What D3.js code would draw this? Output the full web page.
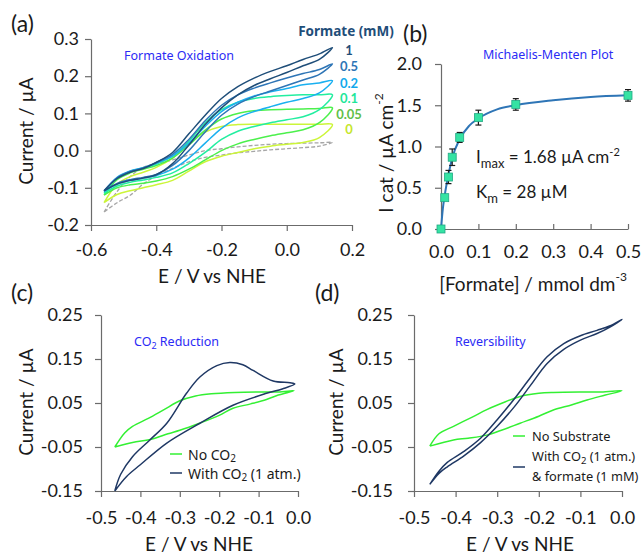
<!DOCTYPE html>
<head>
    <meta charset="utf-8">
    <title>Formate oxidation / CO2 reduction</title>
    <script src="https://cdn.jsdelivr.net/npm/d3@7"></script>
    <style>
        body { margin: 0; background: #fff; }
        svg { font-family: Lato, "Noto Sans", sans-serif; }
        .axis path, .axis line { stroke: #6b6b6b; stroke-width: 1.2; }
        .axis text { font-size: 18px; fill: #1a1a1a; font-family: Lato, sans-serif; }
        .ttl { font-size: 19px; fill: #1a1a1a; }
        .note { font-size: 12.5px; fill: #2b2bf5; font-family: "Noto Sans", sans-serif; }
        .leg { fill: #1a1a1a; font-family: "Noto Sans", sans-serif; }
        .tag { font-size: 23px; fill: #1a1a1a; }
    </style>
</head>
<body>
<svg id="chart" width="642" height="556"></svg>
<script>
    // (a) formate oxidation CVs - all loops share this potential grid (V vs NHE)
    var potA = [-0.56, -0.52, -0.48, -0.44, -0.40, -0.35, -0.30, -0.25, -0.20, -0.15, -0.10, -0.05, 0.00, 0.05, 0.10, 0.14];
    // forward (upper) and reverse (lower) branches, current in uA
    var fwd1 = [-0.108, -0.075, -0.058, -0.048, -0.032, -0.005, 0.045, 0.095, 0.140, 0.172, 0.195, 0.213, 0.228, 0.245, 0.260, 0.277];
    var rev1 = [-0.108, -0.090, -0.080, -0.074, -0.065, -0.035, 0.015, 0.070, 0.115, 0.150, 0.175, 0.193, 0.210, 0.228, 0.245, 0.277];
    var fwd05 = [-0.108, -0.073, -0.056, -0.047, -0.032, -0.010, 0.030, 0.080, 0.122, 0.150, 0.168, 0.182, 0.195, 0.207, 0.218, 0.233];
    var rev05 = [-0.108, -0.088, -0.078, -0.072, -0.064, -0.040, 0.000, 0.050, 0.095, 0.125, 0.145, 0.160, 0.175, 0.190, 0.205, 0.233];
    var fwd02 = [-0.110, -0.072, -0.055, -0.046, -0.034, -0.015, 0.020, 0.065, 0.105, 0.130, 0.147, 0.158, 0.167, 0.177, 0.182, 0.188];
    var rev02 = [-0.110, -0.090, -0.080, -0.074, -0.067, -0.050, -0.020, 0.020, 0.060, 0.088, 0.105, 0.118, 0.130, 0.140, 0.155, 0.188];
    var fwd01 = [-0.115, -0.074, -0.056, -0.047, -0.036, -0.015, 0.025, 0.075, 0.110, 0.130, 0.140, 0.145, 0.148, 0.150, 0.150, 0.150];
    var rev01 = [-0.115, -0.095, -0.085, -0.079, -0.072, -0.060, -0.035, -0.005, 0.030, 0.052, 0.065, 0.075, 0.083, 0.091, 0.110, 0.150];
    var fwd005 = [-0.120, -0.078, -0.060, -0.050, -0.040, -0.020, 0.015, 0.055, 0.085, 0.100, 0.107, 0.110, 0.111, 0.112, 0.113, 0.115];
    var rev005 = [-0.120, -0.100, -0.092, -0.088, -0.082, -0.070, -0.050, -0.025, 0.000, 0.018, 0.030, 0.040, 0.048, 0.056, 0.075, 0.115];
    var fwd0 = [-0.140, -0.090, -0.070, -0.058, -0.045, -0.020, 0.020, 0.050, 0.065, 0.070, 0.071, 0.071, 0.071, 0.071, 0.071, 0.070];
    var rev0 = [-0.140, -0.118, -0.108, -0.100, -0.092, -0.080, -0.055, -0.030, -0.015, -0.005, 0.005, 0.012, 0.017, 0.022, 0.035, 0.070];
    var fwdBlank = [-0.165, -0.110, -0.070, -0.045, -0.035, -0.025, -0.012, 0.000, 0.005, 0.010, 0.014, 0.017, 0.019, 0.020, 0.021, 0.022];
    var revBlank = [-0.165, -0.140, -0.120, -0.090, -0.068, -0.048, -0.030, -0.018, -0.012, -0.006, -0.002, 0.002, 0.005, 0.008, 0.012, 0.022];
    var concLabels = ["1", "0.5", "0.2", "0.1", "0.05", "0"];

    // (b) Michaelis-Menten
    var conc = [0, 0.01, 0.02, 0.03, 0.05, 0.1, 0.2, 0.5];
    var icat = [0, 0.38, 0.63, 0.87, 1.11, 1.35, 1.51, 1.62];
    var icatErr = [0, 0.03, 0.08, 0.10, 0.06, 0.09, 0.07, 0.07];
    var fitConc = [0, 0.005, 0.01, 0.02, 0.03, 0.05, 0.075, 0.1, 0.15, 0.2, 0.3, 0.4, 0.5];
    var fitI = [0, 0.25, 0.41, 0.66, 0.86, 1.09, 1.25, 1.34, 1.45, 1.50, 1.56, 1.60, 1.62];

    // (c) CO2 reduction
    var noCo2E = [-0.465, -0.44, -0.42, -0.38, -0.34, -0.30, -0.26, -0.22, -0.16, -0.10, -0.05, -0.01, -0.05, -0.08, -0.12, -0.165, -0.20, -0.25, -0.30, -0.33, -0.37, -0.42, -0.465];
    var noCo2I = [-0.050, -0.018, -0.003, 0.015, 0.035, 0.055, 0.066, 0.071, 0.074, 0.075, 0.075, 0.078, 0.068, 0.058, 0.048, 0.038, 0.022, 0.004, -0.012, -0.020, -0.032, -0.040, -0.050];
    var co2E = [-0.465, -0.45, -0.42, -0.376, -0.333, -0.283, -0.249, -0.206, -0.173, -0.14, -0.114, -0.063, -0.02, -0.008, -0.04, -0.08, -0.165, -0.249, -0.333, -0.401, -0.435, -0.465];
    var co2I = [-0.150, -0.112, -0.072, -0.034, 0.004, 0.072, 0.109, 0.135, 0.142, 0.137, 0.124, 0.100, 0.096, 0.093, 0.082, 0.072, 0.045, 0.004, -0.041, -0.091, -0.117, -0.150];

    // (d) reversibility
    var noSubE = [-0.462, -0.44, -0.405, -0.36, -0.325, -0.28, -0.245, -0.20, -0.165, -0.10, -0.05, 0.0, -0.04, -0.084, -0.12, -0.165, -0.20, -0.245, -0.29, -0.325, -0.37, -0.405, -0.462];
    var noSubI = [-0.048, -0.020, -0.003, 0.018, 0.035, 0.053, 0.065, 0.072, 0.074, 0.075, 0.075, 0.078, 0.068, 0.057, 0.046, 0.034, 0.020, 0.004, -0.012, -0.023, -0.030, -0.034, -0.048];
    var bothE = [-0.462, -0.44, -0.42, -0.38, -0.34, -0.30, -0.26, -0.22, -0.18, -0.14, -0.10, -0.06, -0.03, 0.0, -0.03, -0.06, -0.10, -0.14, -0.18, -0.22, -0.26, -0.30, -0.34, -0.38, -0.42, -0.44, -0.462];
    var bothI = [-0.135, -0.105, -0.085, -0.060, -0.030, 0.012, 0.058, 0.108, 0.155, 0.185, 0.203, 0.215, 0.225, 0.240, 0.222, 0.208, 0.193, 0.172, 0.140, 0.090, 0.040, -0.003, -0.040, -0.070, -0.095, -0.110, -0.135];

    var navy = "#1f3864", green = "#33f033";
    var svg = d3.select("#chart");
    var loc = d3.formatLocale({decimal: ".", thousands: ",", grouping: [3], currency: ["", ""], minus: "-"});
    var f1 = loc.format(".1f"), f2 = loc.format(".2f");

    function drawAxes(x, y, xTicks, yTicks, xFmt, yFmt, xTick, xPad, yPad) {
        svg.append("g").attr("class", "axis")
            .attr("transform", "translate(0," + y.range()[0] + ")")
            .call(d3.axisBottom(x).tickValues(xTicks).tickFormat(xFmt)
                .tickSizeInner(xTick).tickSizeOuter(0).tickPadding(xPad));
        svg.append("g").attr("class", "axis")
            .attr("transform", "translate(" + x.range()[0] + ",0)")
            .call(d3.axisLeft(y).tickValues(yTicks).tickFormat(yFmt)
                .tickSizeInner(6).tickSizeOuter(0).tickPadding(yPad));
    }

    function title(x, y, rot) {
        return svg.append("text").attr("class", "ttl")
            .attr("text-anchor", "middle").attr("dominant-baseline", "central")
            .attr("transform", "translate(" + x + "," + y + ")" + (rot ? " rotate(-90)" : ""));
    }

    function sup(t, s, size, shift) {
        t.append("tspan").attr("dy", shift).style("font-size", size + "px").text(s);
        return t.append("tspan").attr("dy", -shift);
    }

    function tag(x, y, s) {
        svg.append("text").attr("class", "tag").attr("x", x).attr("y", y).text(s);
    }

    // ---------- (a) ----------
    var xA = d3.scaleLinear().domain([-0.6, 0.2]).range([91, 352]);
    var yA = d3.scaleLinear().domain([-0.2, 0.3]).range([225, 39]);
    drawAxes(xA, yA, [-0.6, -0.4, -0.2, 0, 0.2], [-0.2, -0.1, 0, 0.1, 0.2, 0.3], f1, f1, 6, 12, 6);

    var lineA = d3.line().x(function (d) { return xA(d[0]); }).y(function (d) { return yA(d[1]); })
        .curve(d3.curveCatmullRom);

    function loop(fwd, rev) {
        var pts = potA.map(function (e, i) { return [e, fwd[i]]; });
        for (var i = potA.length - 2; i >= 0; i--) pts.push([potA[i], rev[i]]);
        return pts;
    }

    var loopsA = [
        {fwd: fwd0, rev: rev0, c: "#ccf53a", lab: "#c6e62e"},
        {fwd: fwd005, rev: rev005, c: "#4cf04c", lab: "#5fc04a"},
        {fwd: fwd01, rev: rev01, c: "#22eea0", lab: "#1fe69a"},
        {fwd: fwd02, rev: rev02, c: "#1ab0f0", lab: "#12a8ec"},
        {fwd: fwd05, rev: rev05, c: "#2e75b6", lab: "#2e75b6"},
        {fwd: fwd1, rev: rev1, c: "#1f4e79", lab: "#1f4e79"}
    ];

    svg.append("path").attr("d", lineA(loop(fwdBlank, revBlank)))
        .attr("fill", "none").attr("stroke", "#a6a6a6").attr("stroke-width", 1.3)
        .attr("stroke-dasharray", "4,2");

    loopsA.forEach(function (l) {
        svg.append("path").attr("d", lineA(loop(l.fwd, l.rev)))
            .attr("fill", "none").attr("stroke", l.c).attr("stroke-width", 1.5);
    });

    // labels next to each loop's right tip, top down, pushed apart so they don't collide
    var labY = -Infinity;
    loopsA.slice().reverse().forEach(function (l, i) {
        labY = Math.max(yA(l.fwd[l.fwd.length - 1]) + 2, labY + 15.5);
        svg.append("text").attr("x", 349).attr("y", labY)
            .attr("text-anchor", "middle").attr("dominant-baseline", "central")
            .style("font-family", "Lato, sans-serif")
            .style("font-size", "13px").attr("font-weight", "bold").attr("fill", l.lab)
            .text(concLabels[i]);
    });

    svg.append("text").attr("x", 346).attr("y", 31).attr("text-anchor", "middle")
        .attr("dominant-baseline", "central").style("font-family", "Noto Sans, sans-serif")
        .style("font-size", "13.5px").attr("font-weight", "bold")
        .attr("fill", "#1f4e79").text("Formate (mM)");
    svg.append("text").attr("class", "note").attr("x", 124).attr("y", 55)
        .attr("dominant-baseline", "central").text("Formate Oxidation");
    title(212, 275).text("E / V vs  NHE");
    title(25, 131, true).text("Current / µA");
    tag(11, 32, "(a)");

    // ---------- (b) ----------
    var xB = d3.scaleLinear().domain([0, 0.5]).range([441, 628]);
    var yB = d3.scaleLinear().domain([0, 2]).range([229, 64]);
    drawAxes(xB, yB, [0, 0.1, 0.2, 0.3, 0.4, 0.5], [0, 0.5, 1, 1.5, 2], f1, f1, -5, 16, 13);

    svg.append("path")
        .attr("d", d3.line().curve(d3.curveMonotoneX)
            .x(function (d, i) { return xB(fitConc[i]); })
            .y(function (d) { return yB(d); })(fitI))
        .attr("fill", "none").attr("stroke", "#2e75b6").attr("stroke-width", 2);

    var pts = svg.append("g").selectAll("g").data(conc).join("g");
    pts.filter(function (d, i) { return icatErr[i] > 0; }).each(function (d) {
        var i = conc.indexOf(d), g = d3.select(this), x = xB(d);
        var y0 = yB(icat[i] - icatErr[i]), y1 = yB(icat[i] + icatErr[i]);
        g.append("line").attr("x1", x).attr("x2", x).attr("y1", y0).attr("y2", y1);
        g.append("line").attr("x1", x - 3).attr("x2", x + 3).attr("y1", y0).attr("y2", y0);
        g.append("line").attr("x1", x - 3).attr("x2", x + 3).attr("y1", y1).attr("y2", y1);
        g.selectAll("line").attr("stroke", "#1a1a1a").attr("stroke-width", 1.2);
    });
    pts.append("rect")
        .attr("x", function (d) { return xB(d) - 4; })
        .attr("y", function (d, i) { return yB(icat[i]) - 4; })
        .attr("width", 8).attr("height", 8)
        .attr("fill", "#35e3a3").attr("stroke", "#22a884").attr("stroke-width", 0.8);

    svg.append("text").attr("class", "note").attr("x", 483).attr("y", 54)
        .attr("dominant-baseline", "central").text("Michaelis-Menten Plot");

    var im = svg.append("text").attr("x", 476).attr("y", 163).style("font-size", "17px").attr("fill", "#1a1a1a").text("I");
    var rest = sup(im, "max", 13, 5);
    rest.text(" = 1.68 µA cm");
    sup(im, "-2", 11, -7);

    var km = svg.append("text").attr("x", 476).attr("y", 198).style("font-size", "17px").attr("fill", "#1a1a1a").text("K");
    sup(km, "m", 13, 5).text(" = 28 µM");

    var tb = title(533, 283).text("[Formate] / mmol dm");
    sup(tb, "-3", 12, -7);
    var tyb = title(385, 153, true).text("I cat / µA cm");
    sup(tyb, "-2", 12, -7);
    tag(403, 42, "(b)");

    // ---------- (c) and (d) ----------
    var yC = d3.scaleLinear().domain([-0.15, 0.25]).range([491, 315]);
    var xC = d3.scaleLinear().domain([-0.5, 0]).range([101, 298]);
    var xD = d3.scaleLinear().domain([-0.5, 0]).range([414, 622]);
    var cvTicksX = [-0.5, -0.4, -0.3, -0.2, -0.1, 0], cvTicksY = [-0.15, -0.05, 0.05, 0.15, 0.25];
    drawAxes(xC, yC, cvTicksX, cvTicksY, f1, f2, 6, 14, 12);
    drawAxes(xD, yC, cvTicksX, cvTicksY, f1, f2, 6, 14, 15);

    function cv(x, E, I, col) {
        svg.append("path")
            .attr("d", d3.line().curve(d3.curveCatmullRom)
                .x(function (d, i) { return x(E[i]); })
                .y(function (d) { return yC(d); })(I))
            .attr("fill", "none").attr("stroke", col).attr("stroke-width", 1.5);
    }
    cv(xC, noCo2E, noCo2I, green);
    cv(xC, co2E, co2I, navy);
    cv(xD, noSubE, noSubI, green);
    cv(xD, bothE, bothI, navy);

    function legLine(x, y, col) {
        svg.append("line").attr("x1", x).attr("x2", x + 12).attr("y1", y).attr("y2", y)
            .attr("stroke", col).attr("stroke-width", 1.5);
    }
    function legText(x, y, size) {
        return svg.append("text").attr("class", "leg").attr("x", x).attr("y", y)
            .style("font-size", size + "px").attr("dominant-baseline", "central");
    }

    // (c) labels
    var cn = svg.append("text").attr("class", "note").attr("x", 134).attr("y", 341)
        .attr("dominant-baseline", "central").text("CO");
    sup(cn, "2", 9, 4).text(" Reduction");
    legLine(170, 454, green);
    sup(legText(188, 454, 14).text("No CO"), "2", 10, 4);
    legLine(170, 473, navy);
    sup(legText(188, 473, 14).text("With CO"), "2", 10, 4).text(" (1 atm.)");
    title(199, 543).text("E / V vs  NHE");
    title(25, 402, true).text("Current / µA");
    tag(11, 301, "(c)");

    // (d) labels
    svg.append("text").attr("class", "note").attr("x", 455).attr("y", 341)
        .attr("dominant-baseline", "central").text("Reversibility");
    legLine(513, 436, green);
    legText(532, 436, 12.8).text("No Substrate");
    legLine(513, 467, navy);
    sup(legText(532, 456, 12.8).text("With CO"), "2", 9.5, 4).text(" (1 atm.)");
    legText(532, 476, 12.8).text("& formate (1 mM)");
    title(520, 543).text("E / V vs  NHE");
    title(335, 402, true).text("Current / µA");
    tag(315, 301, "(d)");
</script>
</body>
